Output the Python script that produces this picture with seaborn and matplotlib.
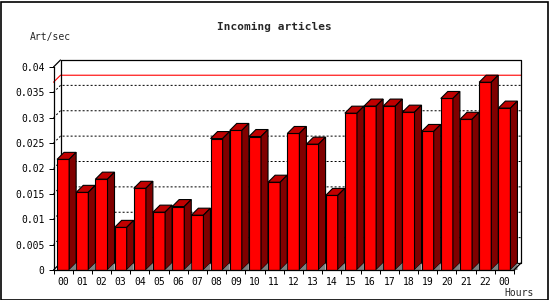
import numpy as np
import pandas as pd
import matplotlib
matplotlib.use("Agg")
import matplotlib.pyplot as plt
from matplotlib.patches import Polygon, Rectangle
import seaborn as sns

# ---- data ----
hour_labels = ["00", "01", "02", "03", "04", "05", "06", "07", "08", "09", "10", "11",
               "12", "13", "14", "15", "16", "17", "18", "19", "20", "21", "22", "00"]
art_per_sec = [0.0218, 0.0153, 0.0179, 0.0084, 0.0161, 0.0114, 0.0125, 0.0108,
               0.0259, 0.0275, 0.0263, 0.0173, 0.0269, 0.0248, 0.0147, 0.0309,
               0.0323, 0.0323, 0.0311, 0.0273, 0.0338, 0.0297, 0.0370, 0.0319]
y_ticks = [0, 0.005, 0.01, 0.015, 0.02, 0.025, 0.03, 0.035, 0.04]
y_ticklabels = ["0", "0.005", "0.01", "0.015", "0.02", "0.025", "0.03", "0.035", "0.04"]

df = pd.DataFrame({"slot": np.arange(len(art_per_sec)), "value": art_per_sec})

sns.set_style("white")
plt.rcParams["font.family"] = ["DejaVu Sans Mono", "DejaVu Sans"]

W, H, DPI = 550, 300, 100
fig = plt.figure(figsize=(W / DPI, H / DPI), dpi=DPI)
ax_l, ax_b, ax_w, ax_h = 53.5, 30, 460.5, 203
ax = fig.add_axes([ax_l / W, ax_b / H, ax_w / W, ax_h / H])

sns.barplot(data=df, x="slot", y="value", color="#ff0000", saturation=1,
            width=0.63, edgecolor="black", linewidth=0.8, ax=ax, zorder=2)

xmin, xmax = -0.5, len(art_per_sec) - 0.5
ymin, ymax = 0, 0.04
ax.set_xlim(xmin, xmax)
ax.set_ylim(ymin, ymax)

# 3D depth offset (7 px) expressed in data units
depth_px = 7
dx = depth_px * (xmax - xmin) / ax_w
dy = depth_px * (ymax - ymin) / ax_h

# 3D faces for each bar
for p in list(ax.patches):
    x0 = p.get_x()
    x1 = x0 + p.get_width()
    h = p.get_height()
    top = Polygon([(x0, h), (x1, h), (x1 + dx, h + dy), (x0 + dx, h + dy)],
                  closed=True, facecolor="#c00000", edgecolor="black",
                  linewidth=0.8, zorder=2, clip_on=False)
    side = Polygon([(x1, 0), (x1, h), (x1 + dx, h + dy), (x1 + dx, dy)],
                   closed=True, facecolor="#800000", edgecolor="black",
                   linewidth=0.8, zorder=2, clip_on=False)
    shadow = Polygon([(x1, 0), (x1 + dx, dy), (x1 + dx, 0)], closed=True,
                     facecolor="#808080", edgecolor="none", zorder=2.1, clip_on=False)
    ax.add_patch(top)
    ax.add_patch(side)
    ax.add_patch(shadow)

# back wall grid lines (dotted), running diagonally along the left wall
for v in y_ticks[1:-1]:
    ax.plot([xmin, xmin + dx, xmax + dx], [v, v + dy, v + dy], color="black",
            linewidth=0.72, dashes=(2, 2), zorder=0.5, clip_on=False)

# maximum line
vmax = max(art_per_sec)
ax.plot([xmin, xmin + dx, xmax + dx], [vmax, vmax + dy, vmax + dy], color="#ff0000",
        linewidth=0.8, zorder=0.6, clip_on=False)

# back box and connecting diagonals
box_kw = dict(color="black", linewidth=0.9, zorder=0.7, clip_on=False)
ax.plot([xmin + dx, xmin + dx, xmax + dx, xmax + dx, xmin + dx],
        [dy, ymax + dy, ymax + dy, dy, dy], **box_kw)
ax.plot([xmin, xmin + dx], [ymax, ymax + dy], **box_kw)
ax.plot([xmin, xmin + dx], [0, dy], **box_kw)
ax.plot([xmax, xmax + dx], [0, dy], color="black", linewidth=0.9, zorder=3, clip_on=False)

# spines
for s in ["top", "right"]:
    ax.spines[s].set_visible(False)
for s in ["left", "bottom"]:
    ax.spines[s].set_color("black")
    ax.spines[s].set_linewidth(0.9)
    ax.spines[s].set_zorder(3)
ax.patch.set_alpha(0)

# ticks
ax.set_yticks(y_ticks)
ax.set_yticklabels(y_ticklabels)
ax.set_xticks(np.arange(len(hour_labels)))
ax.set_xticklabels(hour_labels)
ax.set_xticks(np.arange(len(hour_labels) + 1) - 0.5, minor=True)
ax.tick_params(axis="y", direction="out", length=3.5, width=0.72, pad=3,
               labelsize=7, colors="black", left=True)
ax.tick_params(axis="x", which="major", length=0, pad=5, labelsize=7, colors="black")
ax.tick_params(axis="x", which="minor", direction="out", length=3, width=0.72,
               bottom=True, colors="black")
ax.set_xlabel("")
ax.set_ylabel("")

# texts
fig.text(274 / W, 1 - 26.7 / H, "Incoming articles", ha="center", va="center",
         fontsize=8, fontweight="bold")
fig.text(30 / W, 1 - 36.7 / H, "Art/sec", ha="left", va="center", fontsize=7)
fig.text(504 / W, 1 - 292.7 / H, "Hours", ha="left", va="center", fontsize=7)

# figure frame
fig.patches.append(Rectangle((0.5 / W, 0.5 / H), (W - 2.5) / W, (H - 2.5) / H,
                             transform=fig.transFigure, fill=False,
                             edgecolor="black", linewidth=1.2))

fig.savefig("out.png", dpi=DPI)
